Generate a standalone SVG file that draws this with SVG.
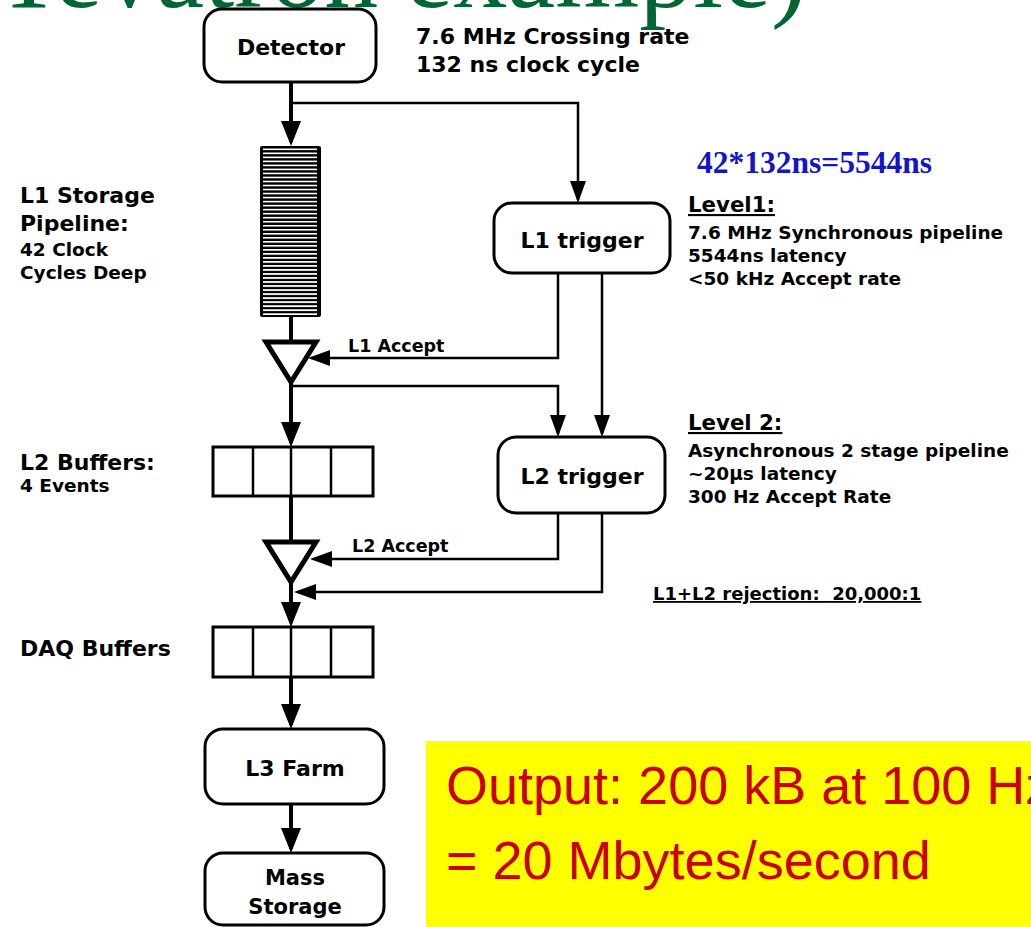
<svg xmlns="http://www.w3.org/2000/svg" width="1031" height="927" viewBox="0 0 1031 927">
<style>
.box{fill:#fff;stroke:#000;stroke-width:3}
.lbl{font-family:"DejaVu Sans","Liberation Sans",sans-serif;font-weight:bold;fill:#000}
.c{text-anchor:middle}
.thick{fill:none;stroke:#000;stroke-width:4}
.thin{fill:none;stroke:#000;stroke-width:2.5}
.tri{fill:#fff;stroke:#000;stroke-width:5}
.buf{fill:#fff;stroke:#000;stroke-width:3}
.div{stroke:#000;stroke-width:2.5}
.red{font-family:"Liberation Sans",Arial,sans-serif;font-size:54px;fill:#cc0000}
</style>
<defs>
<marker id="ah" markerUnits="userSpaceOnUse" markerWidth="26" markerHeight="20" refX="21" refY="10" orient="auto"><path d="M0,0 L25,10 L0,20 z" fill="#000"/></marker>
<marker id="as" markerUnits="userSpaceOnUse" markerWidth="23" markerHeight="16" refX="19" refY="8" orient="auto"><path d="M0,0 L22,8 L0,16 z" fill="#000"/></marker>
<pattern id="hatch" patternUnits="userSpaceOnUse" x="0" y="148.5" width="10" height="4.02"><rect width="10" height="1.7" fill="#fff"/></pattern>
</defs>
<rect width="1031" height="927" fill="#fff"/>
<text x="-4" y="7" font-family="Liberation Serif,serif" font-size="108" fill="#006633">Tevatron example)</text>

<g id="connectors">
<path class="thick" d="M291,82 V142" marker-end="url(#ah)"/>
<path class="thick" d="M291,317 V342"/>
<path class="thick" d="M291,382 V443" marker-end="url(#ah)"/>
<path class="thick" d="M291,496 V542"/>
<path class="thick" d="M291,582 V623" marker-end="url(#ah)"/>
<path class="thick" d="M291,677 V725" marker-end="url(#ah)"/>
<path class="thick" d="M291,804 V849" marker-end="url(#ah)"/>
<path class="thin" d="M291,103 H578 V200" marker-end="url(#as)"/>
<path class="thin" d="M558,273 V358 H311" marker-end="url(#as)"/>
<path class="thin" d="M602,273 V434" marker-end="url(#as)"/>
<path class="thin" d="M291,386 H558 V434" marker-end="url(#as)"/>
<path class="thin" d="M558,513 V559 H313" marker-end="url(#as)"/>
<path class="thin" d="M602,513 V592 H297" marker-end="url(#as)"/>
</g>

<g id="detector">
<rect class="box" x="204" y="9" width="172" height="73" rx="18"/>
<text class="lbl c" x="291" y="55" font-size="22">Detector</text>
</g>
<g id="detector-info">
<text class="lbl" x="416" y="44" font-size="22">7.6 MHz Crossing rate</text>
<text class="lbl" x="416" y="72" font-size="22">132 ns clock cycle</text>
</g>

<g id="pipeline">
<rect x="260" y="146" width="61" height="171" rx="2" fill="#000"/>
<rect x="263" y="148" width="54" height="167" fill="url(#hatch)"/>
</g>
<g id="pipeline-label">
<text class="lbl" x="20" y="203" font-size="22">L1 Storage</text>
<text class="lbl" x="20" y="231" font-size="22">Pipeline:</text>
<text class="lbl" x="20" y="256" font-size="18.5">42 Clock</text>
<text class="lbl" x="20" y="279" font-size="18.5">Cycles Deep</text>
</g>

<g id="calc">
<text x="697" y="173" font-family="Liberation Serif,serif" font-weight="bold" font-size="31.5" fill="#1515c8">42*132ns=5544ns</text>
</g>

<g id="l1trigger">
<rect class="box" x="494" y="203" width="176" height="70" rx="18"/>
<text class="lbl c" x="582" y="248" font-size="22">L1 trigger</text>
</g>
<g id="level1-info">
<text class="lbl" x="688" y="212" font-size="21.3" text-decoration="underline">Level1:</text>
<text class="lbl" x="688" y="239" font-size="18.5">7.6 MHz Synchronous pipeline</text>
<text class="lbl" x="688" y="262" font-size="18.5">5544ns latency</text>
<text class="lbl" x="688" y="285" font-size="18.5">&lt;50 kHz Accept rate</text>
</g>

<g id="l1accept">
<polygon class="tri" points="266,342 316,342 291,382"/>
<text class="lbl" x="348" y="352" font-size="17.5">L1 Accept</text>
</g>

<g id="l2buffers">
<rect class="buf" x="213" y="447" width="160" height="49"/>
<line class="div" x1="253" y1="447" x2="253" y2="496"/>
<line class="div" x1="291" y1="447" x2="291" y2="496"/>
<line class="div" x1="331" y1="447" x2="331" y2="496"/>
</g>
<g id="l2buffers-label">
<text class="lbl" x="20" y="470" font-size="22">L2 Buffers:</text>
<text class="lbl" x="20" y="492" font-size="18.5">4 Events</text>
</g>

<g id="l2trigger">
<rect class="box" x="498" y="437" width="167" height="76" rx="18"/>
<text class="lbl c" x="582" y="484" font-size="22">L2 trigger</text>
</g>
<g id="level2-info">
<text class="lbl" x="688" y="430" font-size="21.3" text-decoration="underline">Level 2:</text>
<text class="lbl" x="688" y="457" font-size="18.5">Asynchronous 2 stage pipeline</text>
<text class="lbl" x="688" y="480" font-size="18.5">~20μs latency</text>
<text class="lbl" x="688" y="503" font-size="18.5">300 Hz Accept Rate</text>
</g>

<g id="l2accept">
<polygon class="tri" points="266,542 316,542 291,582"/>
<text class="lbl" x="352" y="552" font-size="17.5">L2 Accept</text>
</g>

<g id="rejection">
<text class="lbl" x="653" y="600" font-size="18" text-decoration="underline" xml:space="preserve">L1+L2 rejection:  20,000:1</text>
</g>

<g id="daqbuffers">
<rect class="buf" x="213" y="627" width="160" height="50"/>
<line class="div" x1="253" y1="627" x2="253" y2="677"/>
<line class="div" x1="291" y1="627" x2="291" y2="677"/>
<line class="div" x1="331" y1="627" x2="331" y2="677"/>
</g>
<g id="daqbuffers-label">
<text class="lbl" x="20" y="656" font-size="22">DAQ Buffers</text>
</g>

<g id="l3farm">
<rect class="box" x="205" y="729" width="179" height="75" rx="18"/>
<text class="lbl c" x="295" y="776" font-size="22">L3 Farm</text>
</g>

<g id="massstorage">
<rect class="box" x="205" y="853" width="179" height="72" rx="18"/>
<text class="lbl c" x="295" y="885" font-size="21">Mass</text>
<text class="lbl c" x="295" y="914" font-size="21">Storage</text>
</g>

<g id="output">
<rect x="426" y="741" width="605" height="186" fill="#ffff00"/>
<text class="red" x="446" y="804">Output: 200 kB at 100 Hz</text>
<text class="red" x="446" y="879">= 20 Mbytes/second</text>
</g>
</svg>
